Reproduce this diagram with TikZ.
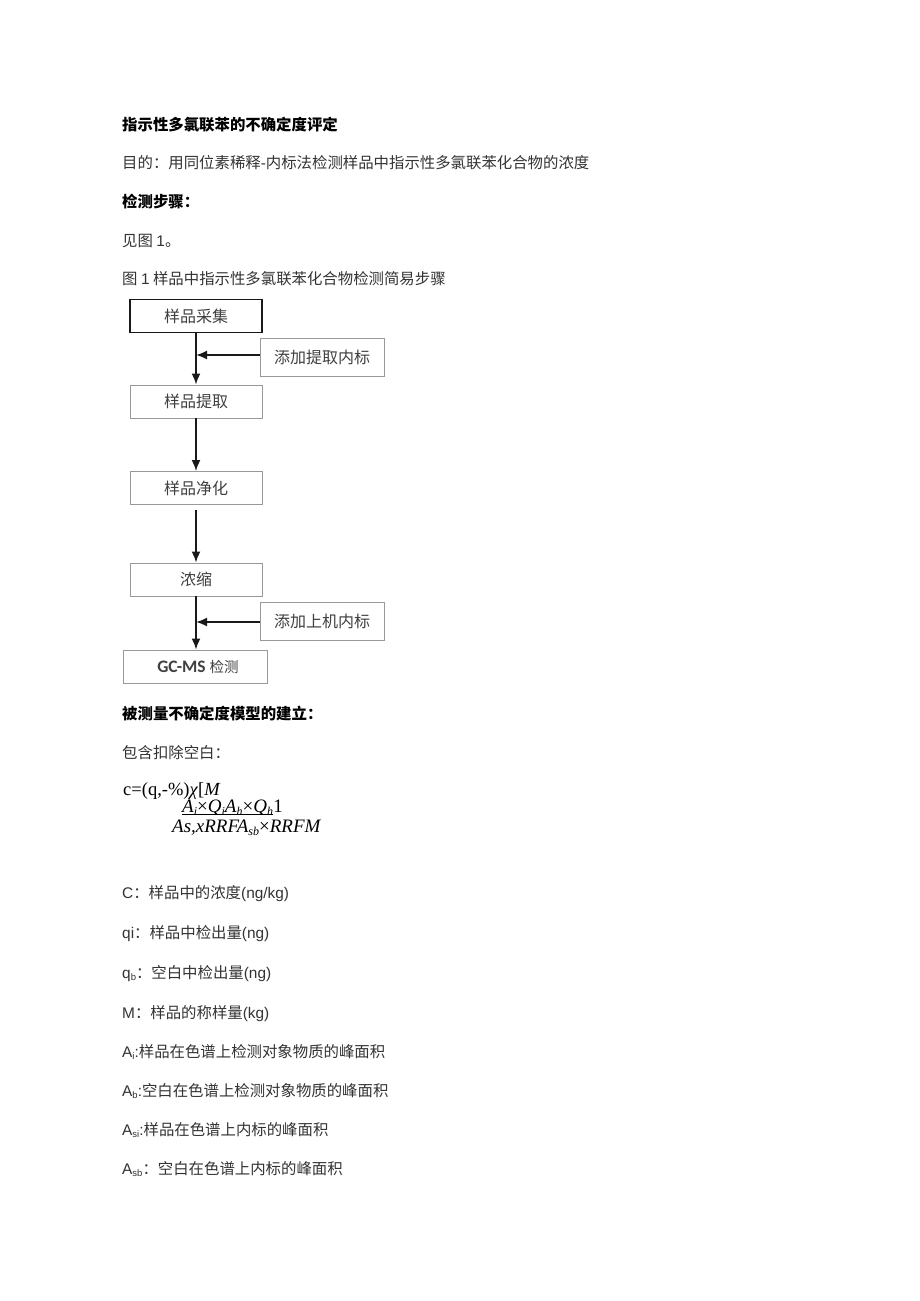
\documentclass[tikz,border=0pt]{standalone}
\usepackage{fontspec}
\usetikzlibrary{arrows.meta}
\setmainfont{Liberation Sans}
\newfontfamily\cjk{Noto Sans CJK SC}
\newfontfamily\latf{Liberation Sans}
\newfontfamily\serf{Liberation Serif}
\newfontfamily\carl{Carlito}
\newcommand\la[1]{{\latf #1}}
\newcommand\ssub[1]{\raisebox{-2.5pt}{\latf\fontsize{9.5}{10}\selectfont #1}}
\newcommand\fsub[1]{\raisebox{-3pt}{\fontsize{12}{12}\selectfont\itshape #1}}
\begin{document}
\begin{tikzpicture}[x=1pt,y=-1pt,
  txt/.style={anchor=base west, inner sep=0pt, font=\cjk\fontsize{15.4}{18}\selectfont, text=black!80},
  hd/.style={anchor=base west, inner sep=0pt, font=\cjk\bfseries\fontsize{15.4}{18}\selectfont, text=black},
  fml/.style={anchor=base west, inner sep=0pt, font=\serf\fontsize{19}{20}\selectfont, text=black},
  box/.style={draw=black!40, line width=0.9pt, minimum width=132pt, minimum height=33pt, inner sep=0pt, font=\cjk\fontsize{16}{18}\selectfont, text=black!75},
  sidebox/.style={box, minimum width=124pt, minimum height=38pt},
  arr/.style={-{Latex[length=11pt,width=9pt]}, line width=1.8pt, draw=black!90},
]
\useasboundingbox (0,0) rectangle (920,1301);
\fill[white] (0,0) rectangle (920,1301);

% header texts
\node[hd]  (t1) at (122,130) {指示性多氯联苯的不确定度评定};
\node[txt] (t2) at (122,168) {目的：用同位素稀释\la{-}内标法检测样品中指示性多氯联苯化合物的浓度};
\node[hd]  (t3) at (122,207) {检测步骤：};
\node[txt] (t4) at (122,246) {见图 \la{1}。};
\node[txt] (t5) at (122,284) {图 \la{1} 样品中指示性多氯联苯化合物检测简易步骤};

% flowchart
\node[box, draw=black!90, line width=1.2pt] (b1) at (196,316) {样品采集};
\node[sidebox] (s1) at (322,357) {添加提取内标};
\node[box] (b2) at (196,401.5) {样品提取};
\node[box] (b3) at (196,488) {样品净化};
\node[box] (b4) at (196,579.5) {浓缩};
\node[sidebox] (s2) at (322,621) {添加上机内标};
\node[box, minimum width=144pt] (b5) at (195,666.5) {\hspace{6pt}{\carl\bfseries\fontsize{17.5}{18}\selectfont GC-MS}\hspace{4pt}{\fontsize{14.5}{16}\selectfont 检测}};

\coordinate (j1) at (196,355);
\coordinate (j2) at (196,622);
\draw[arr] (b1.south) -- (b2.north);
\draw[arr] (s1.west |- j1) -- (j1);
\draw[arr] (b2.south) -- (b3.north);
\draw[arr] ([yshift=-5pt]b3.south) -- (b4.north);
\draw[arr] (b4.south) -- (b5.north -| b4.south);
\draw[arr] (s2.west |- j2) -- (j2);

% model
\node[hd]  (t6) at (122,719) {被测量不确定度模型的建立：};
\node[txt] (t7) at (122,758) {包含扣除空白：};

\node[fml, font=\serf\fontsize{18.5}{20}\selectfont] (f1) at (123,795) {c=(q,-\%)\textit{χ}[\textit{M}};
\node[fml] (f2a) at (182,812) {\textit{A}\fsub{i}×\textit{Q}\fsub{i}\textit{A}\fsub{h}×\textit{Q}\fsub{h}};
\node[fml, anchor=base west] (f2b) at (f2a.base east) {1};
\draw[line width=0.8pt] ([yshift=-2pt]f2a.base west) -- ([yshift=-2pt]f2a.base east);
\node[fml] (f3) at (172,832) {\textit{As,xRRFA}\fsub{sb}×\textit{RRFM}};

% definitions
\node[txt] (d1) at (122,898) {\la{C}：样品中的浓度\la{(ng/kg)}};
\node[txt] (d2) at (122,938) {\la{qi}：样品中检出量\la{(ng)}};
\node[txt] (d3) at (122,978) {\la{q}\ssub{b}：空白中检出量\la{(ng)}};
\node[txt] (d4) at (122,1018) {\la{M}：样品的称样量\la{(kg)}};
\node[txt] (d5) at (122,1057) {\la{A}\ssub{i}\la{:}样品在色谱上检测对象物质的峰面积};
\node[txt] (d6) at (122,1096) {\la{A}\ssub{b}\la{:}空白在色谱上检测对象物质的峰面积};
\node[txt] (d7) at (122,1135) {\la{A}\ssub{si}\la{:}样品在色谱上内标的峰面积};
\node[txt] (d8) at (122,1174) {\la{A}\ssub{sb}：空白在色谱上内标的峰面积};
\end{tikzpicture}
\end{document}
